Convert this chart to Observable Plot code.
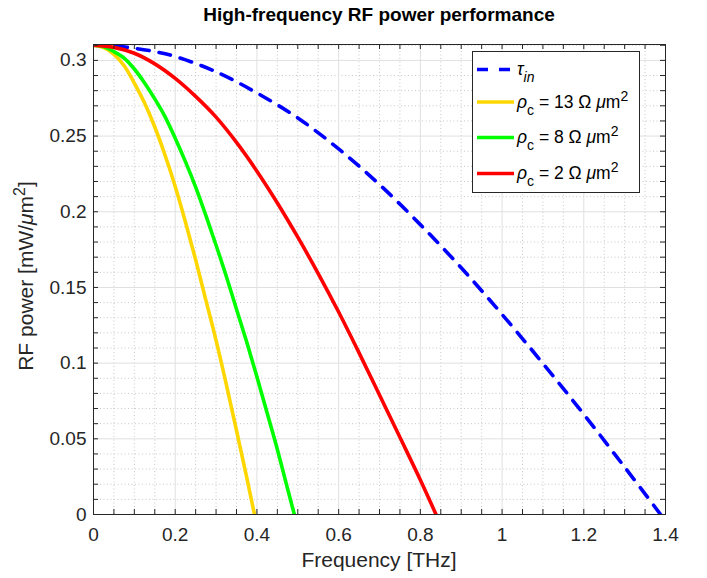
<!DOCTYPE html>
<html><head><meta charset="utf-8">
<script src="https://cdn.jsdelivr.net/npm/d3@7"></script>
<script src="https://cdn.jsdelivr.net/npm/@observablehq/plot@0.6"></script>
<style>body{margin:0;background:#fff}#chart{width:707px;height:578px}</style>
</head><body><div id="chart"></div>
<script>
// ---- data ----
const freqTau  = [0, 0.05, 0.1, 0.15, 0.2, 0.3, 0.4, 0.5, 0.6, 0.7, 0.8, 0.9, 1.0, 1.1, 1.2, 1.3, 1.388];
const powerTau = [0.310, 0.3095, 0.308, 0.3058, 0.3026, 0.2925, 0.2785, 0.262, 0.2415, 0.218, 0.1915, 0.163, 0.1322, 0.0998, 0.0662, 0.0313, 0];

const freqRho13  = [0, 0.025, 0.05, 0.075, 0.1, 0.125, 0.15, 0.175, 0.2, 0.225, 0.25, 0.275, 0.3, 0.325, 0.35, 0.375, 0.394];
const powerRho13 = [0.310, 0.3084, 0.304, 0.2965, 0.285, 0.2718, 0.256, 0.2375, 0.2167, 0.1933, 0.1683, 0.1416, 0.115, 0.086, 0.0555, 0.0245, 0];

const freqRho8  = [0, 0.025, 0.05, 0.075, 0.1, 0.125, 0.15, 0.175, 0.2, 0.225, 0.25, 0.275, 0.3, 0.325, 0.35, 0.375, 0.4, 0.425, 0.45, 0.475, 0.4916];
const powerRho8 = [0.310, 0.309, 0.3058, 0.3015, 0.2943, 0.2851, 0.2746, 0.2629, 0.2486, 0.2331, 0.2163, 0.1976, 0.1779, 0.1574, 0.1356, 0.114, 0.091, 0.067, 0.043, 0.017, 0];

const freqRho2  = [0, 0.05, 0.1, 0.15, 0.2, 0.25, 0.3, 0.35, 0.4, 0.45, 0.5, 0.55, 0.6, 0.65, 0.7, 0.75, 0.8, 0.8384];
const powerRho2 = [0.310, 0.3086, 0.3047, 0.2977, 0.2881, 0.2762, 0.2625, 0.2458, 0.2268, 0.2058, 0.1832, 0.1592, 0.1338, 0.1068, 0.079, 0.051, 0.0228, 0];

const xTicks = [0, 0.2, 0.4, 0.6, 0.8, 1, 1.2, 1.4];
const xTickLabels = ["0", "0.2", "0.4", "0.6", "0.8", "1", "1.2", "1.4"];
const yTicks = [0, 0.05, 0.1, 0.15, 0.2, 0.25, 0.3];
const yTickLabels = ["0", "0.05", "0.1", "0.15", "0.2", "0.25", "0.3"];

const titleText = "High-frequency RF power performance";
const xLabelText = "Frequency [THz]";
const seriesColors = ["#0000ff", "#ffd700", "#00ff00", "#ff0000"];

// ---- layout ----
const W = 707, H = 578, mL = 93, mR = 42, mT = 44, mB = 64;
const fW = W - mL - mR, fH = H - mT - mB;
const FONT = "'Liberation Sans', Arial, Helvetica, sans-serif";
const INK = "#262626";

const xMinorAll = d3.range(0, 29).map(i => +(i * 0.05).toFixed(2));
const yMinorAll = d3.range(0, 32).map(i => +(i * 0.01).toFixed(2));
const isMajor = (v, step) => Math.abs(Math.round(v / step) * step - v) < 1e-9;
const xMinorGrid = xMinorAll.filter(v => !isMajor(v, 0.2) && v < 1.4);
const yMinorGrid = yMinorAll.filter(v => !isMajor(v, 0.05) && v <= 0.31);
const xMajorGrid = xTicks.filter(v => v > 0 && v < 1.4);
const yMajorGrid = yTicks.filter(v => v > 0);

const tk = 5;
const lineOpts = {curve: "catmull-rom", strokeWidth: 3.6, clip: true};

const chart = Plot.plot({
  width: W, height: H,
  marginLeft: mL, marginRight: mR, marginTop: mT, marginBottom: mB,
  x: {domain: [0, 1.4]},
  y: {domain: [0, 0.3105]},
  style: {fontFamily: FONT, background: "#fff", color: INK},
  marks: [
    Plot.ruleX(xMinorGrid, {stroke: "#c8c8c8", strokeDasharray: "1,2.5", strokeWidth: 1}),
    Plot.ruleY(yMinorGrid, {stroke: "#c8c8c8", strokeDasharray: "1,2.5", strokeWidth: 1}),
    Plot.ruleX(xMajorGrid, {stroke: "#e0e0e0", strokeWidth: 1}),
    Plot.ruleY(yMajorGrid, {stroke: "#e0e0e0", strokeWidth: 1}),
    Plot.line(powerTau, {x: freqTau, y: powerTau, stroke: seriesColors[0], strokeDasharray: "12,10", ...lineOpts}),
    Plot.line(powerRho13, {x: freqRho13, y: powerRho13, stroke: seriesColors[1], ...lineOpts}),
    Plot.line(powerRho8, {x: freqRho8, y: powerRho8, stroke: seriesColors[2], ...lineOpts}),
    Plot.line(powerRho2, {x: freqRho2, y: powerRho2, stroke: seriesColors[3], ...lineOpts}),
    Plot.frame({stroke: INK, strokeWidth: 1}),
    Plot.tickX(xMinorAll, {x: d => d, stroke: INK, insetTop: fH - tk}),
    Plot.tickX(xMinorAll, {x: d => d, stroke: INK, insetBottom: fH - tk}),
    Plot.tickY(yMinorAll.filter(v => v <= 0.31), {y: d => d, stroke: INK, insetRight: fW - tk}),
    Plot.tickY(yMinorAll.filter(v => v <= 0.31), {y: d => d, stroke: INK, insetLeft: fW - tk}),
    Plot.axisX({ticks: xTicks, tickSize: 0, tickPadding: 13, fontSize: 19, fill: INK, label: null,
      tickFormat: d => xTickLabels[xTicks.indexOf(d)]}),
    Plot.axisY({ticks: yTicks, tickSize: 0, tickPadding: 7, fontSize: 19, fill: INK, label: null,
      tickFormat: d => yTickLabels[yTicks.indexOf(d)]})
  ]
});
document.getElementById("chart").appendChild(chart);

// ---- titles, axis labels, legend ----
const svg = d3.select(chart);
svg.append("text").attr("x", mL + fW / 2).attr("y", 21).attr("text-anchor", "middle")
  .attr("font-family", FONT).attr("font-size", 19).attr("font-weight", "bold").attr("fill", "#000")
  .text(titleText);
svg.append("text").attr("x", mL + fW / 2).attr("y", 567).attr("text-anchor", "middle")
  .attr("font-family", FONT).attr("font-size", 21).attr("fill", INK).text(xLabelText);
const yl = svg.append("text").attr("transform", `translate(33,${mT + fH / 2 - 3}) rotate(-90)`)
  .attr("text-anchor", "middle").attr("font-family", FONT).attr("font-size", 21).attr("fill", INK);
yl.append("tspan").text("RF power [mW/");
yl.append("tspan").attr("font-style", "italic").text("μ");
yl.append("tspan").text("m");
yl.append("tspan").attr("dy", -8).attr("font-size", 16).text("2");
yl.append("tspan").attr("dy", 8).text("]");

const lg = svg.append("g").attr("font-family", FONT).attr("font-size", 17.5).attr("fill", "#000")
  .attr("text-anchor", "start");
lg.append("rect").attr("x", 472.5).attr("y", 51.5).attr("width", 167).attr("height", 141)
  .attr("fill", "#fff").attr("stroke", INK).attr("stroke-width", 1);
const legendRows = [
  {y: 69.5, color: seriesColors[0], dash: "11,11", sym: "τ", sub: "in", subItalic: true, rest: null},
  {y: 102, color: seriesColors[1], dash: null, sym: "ρ", sub: "c", subItalic: false, rest: "13"},
  {y: 137.5, color: seriesColors[2], dash: null, sym: "ρ", sub: "c", subItalic: false, rest: "8"},
  {y: 173.5, color: seriesColors[3], dash: null, sym: "ρ", sub: "c", subItalic: false, rest: "2"}
];
legendRows.forEach(r => {
  lg.append("line").attr("x1", 477).attr("x2", 514).attr("y1", r.y).attr("y2", r.y)
    .attr("stroke", r.color).attr("stroke-width", 3.6).attr("stroke-dasharray", r.dash);
  const t = lg.append("text").attr("x", 517).attr("y", r.y + 5.5).attr("text-anchor", "start");
  t.append("tspan").attr("font-style", "italic").text(r.sym);
  t.append("tspan").attr("dy", 7).attr("font-size", 14).attr("font-style", r.subItalic ? "italic" : "normal").text(r.sub);
  if (r.rest) {
    t.append("tspan").attr("dy", -7).text(` = ${r.rest} Ω `);
    t.append("tspan").attr("font-style", "italic").text("μ");
    t.append("tspan").text("m");
    t.append("tspan").attr("dy", -7).attr("font-size", 14).text("2");
  }
});
</script>
</body></html>
